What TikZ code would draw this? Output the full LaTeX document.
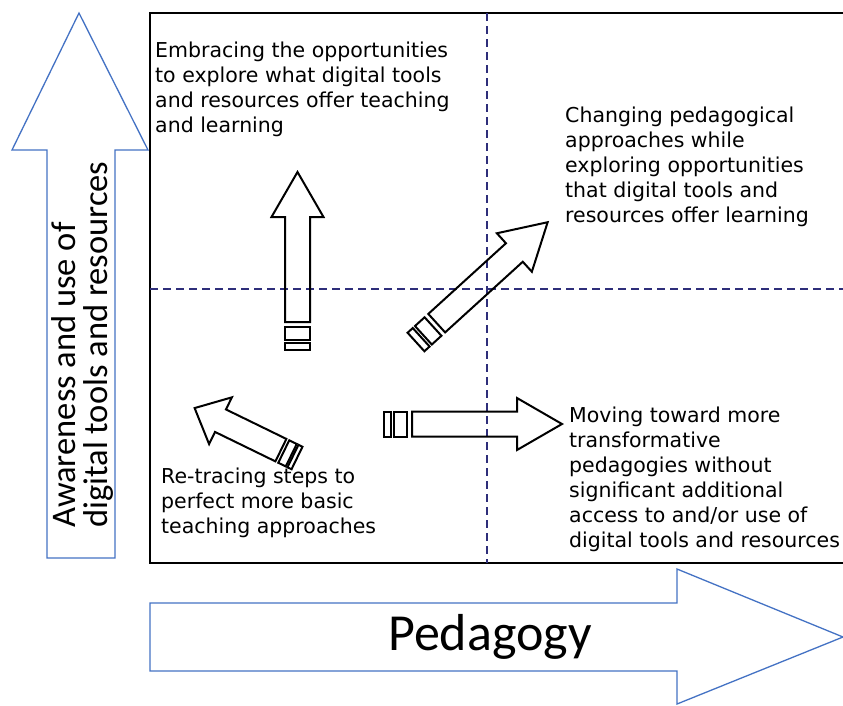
\documentclass[tikz,border=0pt]{standalone}
\usepackage{fontspec}
\setmainfont{DejaVu Sans}
\newfontfamily\calib{Carlito}
\definecolor{arrowblue}{HTML}{4472C4}
\definecolor{dashnavy}{HTML}{2E2E7A}
\newcommand\stripedarrow[4]{%
  \begin{scope}[shift={(#1,#2)}, rotate=#3, xscale=#4]
    \draw[smallarrow] (0,-12.5) rectangle (7,12.5);
    \draw[smallarrow] (10,-12.5) rectangle (23,12.5);
    \draw[smallarrow] (28,-12.5) -- (133,-12.5) -- (133,-26) -- (178,0) -- (133,26) -- (133,12.5) -- (28,12.5) -- cycle;
  \end{scope}}
\begin{document}
\begin{tikzpicture}[x=1pt,y=-1pt,
  bigarrow/.style={draw=arrowblue, line width=1.3pt, fill=white, line join=miter},
  smallarrow/.style={draw=black, line width=2pt, line join=miter},
  quadtext/.style={anchor=base west, inner sep=0pt, align=left, font=\fontsize{20.5}{25}\selectfont},
  divider/.style={draw=dashnavy, line width=1.3pt, dash pattern=on 8pt off 5pt}]
\useasboundingbox (0,0) rectangle (843,705);
\clip (0,0) rectangle (843,705);
\fill[white] (0,0) rectangle (843,705);
% quadrant frame
\draw[line width=1.5pt] (150,13) rectangle (860,563);
\draw[divider] (487,13) -- (487,563);
\draw[divider] (150,289) -- (860,289);
% big axis arrows
\draw[bigarrow] (47,558) -- (47,150) -- (12,150) -- (79,13) -- (148,150) -- (115,150) -- (115,558) -- cycle;
\draw[bigarrow] (150,603) -- (677,603) -- (677,569) -- (843,637) -- (677,704) -- (677,671) -- (150,671) -- cycle;
\node[rotate=90, anchor=base west, inner sep=0pt, align=left, font=\calib\fontsize{34.5}{32}\selectfont] (awareness) at (107,528) {Awareness and use of\\digital tools and resources};
\node[anchor=base west, inner sep=0pt, font=\calib\fontsize{52}{54}\selectfont] (pedagogy) at (388,650) {Pedagogy};
% striped arrows
\stripedarrow{297.5}{350}{90}{1}
\stripedarrow{384}{424}{0}{1}
\stripedarrow{416}{342}{42.3}{1}
\stripedarrow{297}{458}{154}{0.64}
% quadrant texts (anchored at the baseline of the last line)
\node[quadtext] (embrace) at (155,132) {Embracing the opportunities\\to explore what digital tools\\and resources offer teaching\\and learning};
\node[quadtext] (changing) at (565,222) {Changing pedagogical\\approaches while\\exploring opportunities\\that digital tools and\\resources offer learning};
\node[quadtext] (retrace) at (161,533) {Re-tracing steps to\\perfect more basic\\teaching approaches};
\node[quadtext] (moving) at (569,547) {Moving toward more\\transformative\\pedagogies without\\significant additional\\access to and/or use of\\digital tools and resources};
\end{tikzpicture}
\end{document}
